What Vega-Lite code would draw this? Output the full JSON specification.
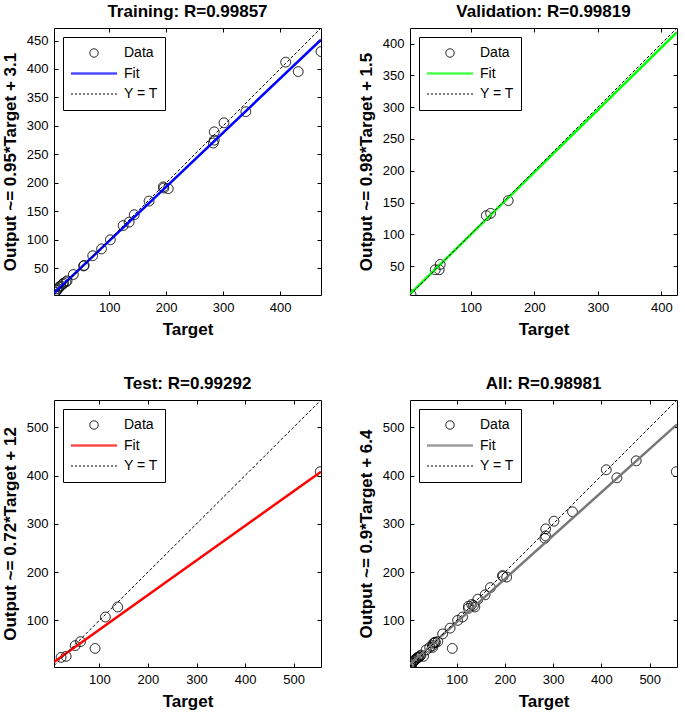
{
  "$schema": "https://vega.github.io/schema/vega-lite/v6.json",
  "padding": {"left": 0, "top": 2, "right": 0, "bottom": 0},
  "background": "white",
  "config": {
    "font": "Liberation Sans",
    "view": {"stroke": "black", "strokeWidth": 1},
    "axis": {"grid": false, "domain": false, "tickColor": "black", "tickSize": -4, "tickWidth": 1, "labelColor": "black", "labelFontSize": 13, "labelFont": "Liberation Sans", "labelPadding": 10, "titleFont": "Liberation Sans", "titleFontSize": 17, "titleFontWeight": "bold", "titleColor": "black", "titlePadding": 7},
    "title": {"fontSize": 17, "fontWeight": "bold", "color": "black", "offset": 7, "font": "Liberation Sans"},
    "legend": {"orient": "top-left", "offset": 9, "strokeColor": "black", "fillColor": "white", "padding": 7, "labelFontSize": 14, "labelColor": "black", "labelFont": "Liberation Sans", "symbolSize": 70, "symbolStrokeWidth": 1, "symbolOffset": 17, "labelOffset": 23, "clipHeight": 18, "rowPadding": 2.5, "cornerRadius": 0}
  },
  "datasets": {
    "tr_pts": [
      {"series": "Data", "target": 3.5, "output": 4.5}, {"series": "Data", "target": 5.5, "output": 8}, {"series": "Data", "target": 8, "output": 11}, {"series": "Data", "target": 10, "output": 14}, {"series": "Data", "target": 12, "output": 17}, {"series": "Data", "target": 15, "output": 19}, {"series": "Data", "target": 18, "output": 22}, {"series": "Data", "target": 20, "output": 24}, {"series": "Data", "target": 24, "output": 26}, {"series": "Data", "target": 26, "output": 28}, {"series": "Data", "target": 37, "output": 39}, {"series": "Data", "target": 55, "output": 54}, {"series": "Data", "target": 56, "output": 55}, {"series": "Data", "target": 71, "output": 72}, {"series": "Data", "target": 86.5, "output": 84}, {"series": "Data", "target": 102, "output": 100}, {"series": "Data", "target": 124.5, "output": 125}, {"series": "Data", "target": 135, "output": 131}, {"series": "Data", "target": 144, "output": 144}, {"series": "Data", "target": 170, "output": 168}, {"series": "Data", "target": 195, "output": 193}, {"series": "Data", "target": 196, "output": 191}, {"series": "Data", "target": 203.7, "output": 189.8}, {"series": "Data", "target": 282.8, "output": 270}, {"series": "Data", "target": 284.5, "output": 275}, {"series": "Data", "target": 284.5, "output": 289.6}, {"series": "Data", "target": 301.5, "output": 305.5}, {"series": "Data", "target": 340, "output": 325}, {"series": "Data", "target": 410, "output": 412}, {"series": "Data", "target": 432, "output": 395.4}, {"series": "Data", "target": 472, "output": 430.6}
    ],
    "tr_fit": [{"target": 3, "output": 5.95}, {"target": 472, "output": 451.5}],
    "tr_yt": [{"target": 3, "output": 3}, {"target": 472, "output": 472}],
    "va_pts": [
      {"series": "Data", "target": 6.1, "output": 5}, {"series": "Data", "target": 44.2, "output": 44.2}, {"series": "Data", "target": 50.4, "output": 44.2}, {"series": "Data", "target": 52, "output": 52.6}, {"series": "Data", "target": 124.5, "output": 129.3}, {"series": "Data", "target": 131.3, "output": 133}, {"series": "Data", "target": 159, "output": 153}
    ],
    "va_fit": [{"target": 4.5, "output": 5.9}, {"target": 424.5, "output": 418}],
    "va_yt": [{"target": 4.5, "output": 4.5}, {"target": 424.5, "output": 424.5}],
    "te_pts": [
      {"series": "Data", "target": 21, "output": 23.5}, {"series": "Data", "target": 31.4, "output": 25.6}, {"series": "Data", "target": 50, "output": 47.8}, {"series": "Data", "target": 61, "output": 56}, {"series": "Data", "target": 91, "output": 42}, {"series": "Data", "target": 112.3, "output": 107}, {"series": "Data", "target": 137.7, "output": 127.8}, {"series": "Data", "target": 555, "output": 408}
    ],
    "te_fit": [{"target": 6.4, "output": 14}, {"target": 556.5, "output": 408}],
    "te_yt": [{"target": 6.4, "output": 6.4}, {"target": 556.5, "output": 556.5}],
    "al_pts": [
      {"series": "Data", "target": 3.5, "output": 4.5}, {"series": "Data", "target": 5.5, "output": 8}, {"series": "Data", "target": 8, "output": 11}, {"series": "Data", "target": 10, "output": 14}, {"series": "Data", "target": 12, "output": 17}, {"series": "Data", "target": 15, "output": 19}, {"series": "Data", "target": 18, "output": 22}, {"series": "Data", "target": 20, "output": 24}, {"series": "Data", "target": 24, "output": 26}, {"series": "Data", "target": 26, "output": 28}, {"series": "Data", "target": 37, "output": 39}, {"series": "Data", "target": 55, "output": 54}, {"series": "Data", "target": 56, "output": 55}, {"series": "Data", "target": 71, "output": 72}, {"series": "Data", "target": 86.5, "output": 84}, {"series": "Data", "target": 102, "output": 100}, {"series": "Data", "target": 124.5, "output": 125}, {"series": "Data", "target": 135, "output": 131}, {"series": "Data", "target": 144, "output": 144}, {"series": "Data", "target": 170, "output": 168}, {"series": "Data", "target": 195, "output": 193}, {"series": "Data", "target": 196, "output": 191}, {"series": "Data", "target": 203.7, "output": 189.8}, {"series": "Data", "target": 282.8, "output": 270}, {"series": "Data", "target": 284.5, "output": 275}, {"series": "Data", "target": 284.5, "output": 289.6}, {"series": "Data", "target": 301.5, "output": 305.5}, {"series": "Data", "target": 340, "output": 325}, {"series": "Data", "target": 410, "output": 412}, {"series": "Data", "target": 432, "output": 395.4}, {"series": "Data", "target": 472, "output": 430.6},
      {"series": "Data", "target": 6.1, "output": 5}, {"series": "Data", "target": 44.2, "output": 44.2}, {"series": "Data", "target": 50.4, "output": 44.2}, {"series": "Data", "target": 52, "output": 52.6}, {"series": "Data", "target": 124.5, "output": 129.3}, {"series": "Data", "target": 131.3, "output": 133}, {"series": "Data", "target": 159, "output": 153},
      {"series": "Data", "target": 21, "output": 23.5}, {"series": "Data", "target": 31.4, "output": 25.6}, {"series": "Data", "target": 50, "output": 47.8}, {"series": "Data", "target": 61, "output": 56}, {"series": "Data", "target": 91, "output": 42}, {"series": "Data", "target": 112.3, "output": 107}, {"series": "Data", "target": 137.7, "output": 127.8}, {"series": "Data", "target": 555, "output": 408}
    ],
    "al_fit": [{"target": 3.4, "output": 9.5}, {"target": 556.5, "output": 506}],
    "al_yt": [{"target": 3.4, "output": 3.4}, {"target": 556.5, "output": 556.5}]
  },
  "vconcat": [
    {
      "hconcat": [
        {
          "width": 267, "height": 267,
          "title": "Training: R=0.99857",
          "layer": [
            {
              "data": {"name": "tr_pts"},
              "mark": {"type": "point", "filled": false, "size": 95, "strokeWidth": 1, "opacity": 1, "clip": true},
              "encoding": {
                "x": {"field": "target", "type": "quantitative", "scale": {"domain": [3, 472], "nice": false, "zero": false}, "axis": {"title": "Target", "values": [100, 200, 300, 400]}},
                "y": {"field": "output", "type": "quantitative", "scale": {"domain": [3, 472], "nice": false, "zero": false}, "axis": {"title": "Output ~= 0.95*Target + 3.1", "values": [50, 100, 150, 200, 250, 300, 350, 400, 450]}},
                "color": {"field": "series", "type": "nominal", "scale": {"domain": ["Data", "Fit", "Y = T"], "range": ["black", "#0000ff", "black"]}, "legend": {"title": null}},
                "shape": {"field": "series", "type": "nominal", "scale": {"domain": ["Data", "Fit", "Y = T"], "range": ["circle", "M-5.5,-0.12L5.5,-0.12M-5.5,0.12L5.5,0.12", "M-5.5,0L5.5,0"]}, "legend": {"title": null}},
                "strokeDash": {"field": "series", "type": "nominal", "scale": {"domain": ["Data", "Fit", "Y = T"], "range": [[1, 0], [1, 0], [2, 2]]}, "legend": {"title": null}}
              }
            },
            {
              "data": {"name": "tr_fit"},
              "mark": {"type": "line", "color": "#0000ff", "strokeWidth": 2.5, "clip": true},
              "encoding": {
                "x": {"field": "target", "type": "quantitative", "axis": {"orient": "top", "labels": false, "title": null, "values": [100, 200, 300, 400]}},
                "y": {"field": "output", "type": "quantitative", "axis": {"orient": "right", "labels": false, "title": null, "values": [50, 100, 150, 200, 250, 300, 350, 400, 450]}}
              }
            },
            {
              "data": {"name": "tr_yt"},
              "mark": {"type": "line", "color": "black", "strokeWidth": 1, "strokeDash": [3, 2], "clip": true},
              "encoding": {"x": {"field": "target", "type": "quantitative", "axis": null}, "y": {"field": "output", "type": "quantitative", "axis": null}}
            }
          ],
          "resolve": {"axis": {"x": "independent", "y": "independent"}}
        },
        {
          "width": 267, "height": 267,
          "title": "Validation: R=0.99819",
          "layer": [
            {
              "data": {"name": "va_pts"},
              "mark": {"type": "point", "filled": false, "size": 95, "strokeWidth": 1, "opacity": 1, "clip": true},
              "encoding": {
                "x": {"field": "target", "type": "quantitative", "scale": {"domain": [4.5, 424.5], "nice": false, "zero": false}, "axis": {"title": "Target", "values": [100, 200, 300, 400]}},
                "y": {"field": "output", "type": "quantitative", "scale": {"domain": [4.5, 424.5], "nice": false, "zero": false}, "axis": {"title": "Output ~= 0.98*Target + 1.5", "values": [50, 100, 150, 200, 250, 300, 350, 400]}},
                "color": {"field": "series", "type": "nominal", "scale": {"domain": ["Data", "Fit", "Y = T"], "range": ["black", "#00ff00", "black"]}, "legend": {"title": null}},
                "shape": {"field": "series", "type": "nominal", "scale": {"domain": ["Data", "Fit", "Y = T"], "range": ["circle", "M-5.5,-0.12L5.5,-0.12M-5.5,0.12L5.5,0.12", "M-5.5,0L5.5,0"]}, "legend": {"title": null}},
                "strokeDash": {"field": "series", "type": "nominal", "scale": {"domain": ["Data", "Fit", "Y = T"], "range": [[1, 0], [1, 0], [2, 2]]}, "legend": {"title": null}}
              }
            },
            {
              "data": {"name": "va_fit"},
              "mark": {"type": "line", "color": "#00ff00", "strokeWidth": 2.5, "clip": true},
              "encoding": {
                "x": {"field": "target", "type": "quantitative", "axis": {"orient": "top", "labels": false, "title": null, "values": [100, 200, 300, 400]}},
                "y": {"field": "output", "type": "quantitative", "axis": {"orient": "right", "labels": false, "title": null, "values": [50, 100, 150, 200, 250, 300, 350, 400]}}
              }
            },
            {
              "data": {"name": "va_yt"},
              "mark": {"type": "line", "color": "black", "strokeWidth": 1, "strokeDash": [3, 2], "clip": true},
              "encoding": {"x": {"field": "target", "type": "quantitative", "axis": null}, "y": {"field": "output", "type": "quantitative", "axis": null}}
            }
          ],
          "resolve": {"axis": {"x": "independent", "y": "independent"}}
        }
      ],
      "spacing": 34,
      "resolve": {"scale": {"color": "independent", "shape": "independent", "strokeDash": "independent"}, "legend": {"color": "independent", "shape": "independent", "strokeDash": "independent"}}
    },
    {
      "hconcat": [
        {
          "width": 267, "height": 267,
          "title": "Test: R=0.99292",
          "layer": [
            {
              "data": {"name": "te_pts"},
              "mark": {"type": "point", "filled": false, "size": 95, "strokeWidth": 1, "opacity": 1, "clip": true},
              "encoding": {
                "x": {"field": "target", "type": "quantitative", "scale": {"domain": [6.4, 556.5], "nice": false, "zero": false}, "axis": {"title": "Target", "values": [100, 200, 300, 400, 500]}},
                "y": {"field": "output", "type": "quantitative", "scale": {"domain": [3.5, 556.5], "nice": false, "zero": false}, "axis": {"title": "Output ~= 0.72*Target + 12", "values": [100, 200, 300, 400, 500]}},
                "color": {"field": "series", "type": "nominal", "scale": {"domain": ["Data", "Fit", "Y = T"], "range": ["black", "#ff0000", "black"]}, "legend": {"title": null}},
                "shape": {"field": "series", "type": "nominal", "scale": {"domain": ["Data", "Fit", "Y = T"], "range": ["circle", "M-5.5,-0.12L5.5,-0.12M-5.5,0.12L5.5,0.12", "M-5.5,0L5.5,0"]}, "legend": {"title": null}},
                "strokeDash": {"field": "series", "type": "nominal", "scale": {"domain": ["Data", "Fit", "Y = T"], "range": [[1, 0], [1, 0], [2, 2]]}, "legend": {"title": null}}
              }
            },
            {
              "data": {"name": "te_fit"},
              "mark": {"type": "line", "color": "#ff0000", "strokeWidth": 2.5, "clip": true},
              "encoding": {
                "x": {"field": "target", "type": "quantitative", "axis": {"orient": "top", "labels": false, "title": null, "values": [100, 200, 300, 400, 500]}},
                "y": {"field": "output", "type": "quantitative", "axis": {"orient": "right", "labels": false, "title": null, "values": [100, 200, 300, 400, 500]}}
              }
            },
            {
              "data": {"name": "te_yt"},
              "mark": {"type": "line", "color": "black", "strokeWidth": 1, "strokeDash": [3, 2], "clip": true},
              "encoding": {"x": {"field": "target", "type": "quantitative", "axis": null}, "y": {"field": "output", "type": "quantitative", "axis": null}}
            }
          ],
          "resolve": {"axis": {"x": "independent", "y": "independent"}}
        },
        {
          "width": 267, "height": 267,
          "title": "All: R=0.98981",
          "layer": [
            {
              "data": {"name": "al_pts"},
              "mark": {"type": "point", "filled": false, "size": 95, "strokeWidth": 1, "opacity": 1, "clip": true},
              "encoding": {
                "x": {"field": "target", "type": "quantitative", "scale": {"domain": [3.4, 556.5], "nice": false, "zero": false}, "axis": {"title": "Target", "values": [100, 200, 300, 400, 500]}},
                "y": {"field": "output", "type": "quantitative", "scale": {"domain": [3.5, 556.5], "nice": false, "zero": false}, "axis": {"title": "Output ~= 0.9*Target + 6.4", "values": [100, 200, 300, 400, 500]}},
                "color": {"field": "series", "type": "nominal", "scale": {"domain": ["Data", "Fit", "Y = T"], "range": ["black", "#777777", "black"]}, "legend": {"title": null}},
                "shape": {"field": "series", "type": "nominal", "scale": {"domain": ["Data", "Fit", "Y = T"], "range": ["circle", "M-5.5,-0.12L5.5,-0.12M-5.5,0.12L5.5,0.12", "M-5.5,0L5.5,0"]}, "legend": {"title": null}},
                "strokeDash": {"field": "series", "type": "nominal", "scale": {"domain": ["Data", "Fit", "Y = T"], "range": [[1, 0], [1, 0], [2, 2]]}, "legend": {"title": null}}
              }
            },
            {
              "data": {"name": "al_fit"},
              "mark": {"type": "line", "color": "#777777", "strokeWidth": 2.5, "clip": true},
              "encoding": {
                "x": {"field": "target", "type": "quantitative", "axis": {"orient": "top", "labels": false, "title": null, "values": [100, 200, 300, 400, 500]}},
                "y": {"field": "output", "type": "quantitative", "axis": {"orient": "right", "labels": false, "title": null, "values": [100, 200, 300, 400, 500]}}
              }
            },
            {
              "data": {"name": "al_yt"},
              "mark": {"type": "line", "color": "black", "strokeWidth": 1, "strokeDash": [3, 2], "clip": true},
              "encoding": {"x": {"field": "target", "type": "quantitative", "axis": null}, "y": {"field": "output", "type": "quantitative", "axis": null}}
            }
          ],
          "resolve": {"axis": {"x": "independent", "y": "independent"}}
        }
      ],
      "spacing": 34,
      "resolve": {"scale": {"color": "independent", "shape": "independent", "strokeDash": "independent"}, "legend": {"color": "independent", "shape": "independent", "strokeDash": "independent"}}
    }
  ],
  "spacing": 36,
  "resolve": {"scale": {"color": "independent", "shape": "independent", "strokeDash": "independent"}, "legend": {"color": "independent", "shape": "independent", "strokeDash": "independent"}}
}
